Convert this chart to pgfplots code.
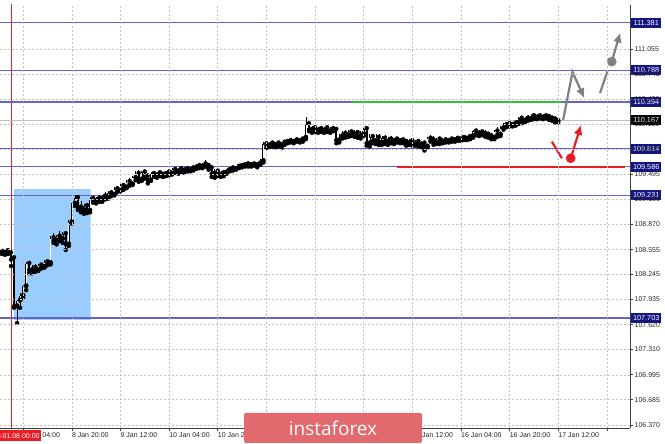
\documentclass[border=0pt]{standalone}
\usepackage{pgfplots}
\usepackage{pgfplotstable}
\pgfplotsset{compat=1.18}
\usetikzlibrary{arrows.meta}
\usepackage{fontspec}
\setmainfont{Liberation Sans}
\newfontfamily\logofont{Open Sans}

\definecolor{lvl}{RGB}{100,100,200}
\definecolor{navy}{RGB}{20,20,130}
\definecolor{boxblue}{RGB}{153,204,255}
\definecolor{arrowgrey}{RGB}{128,128,128}
\definecolor{mtred}{RGB}{235,28,36}
\definecolor{mtgreen}{RGB}{50,190,60}
\definecolor{logored}{RGB}{226,106,110}
\definecolor{gridgrey}{RGB}{195,195,195}

% hourly bars, x = trading hours since 8 Jan 00:00
\pgfplotstableread{
x o h l c
-3 108.53 108.56 108.50 108.52
-2 108.52 108.55 108.49 108.54
-1 108.54 108.57 108.50 108.51
0 108.51 108.53 108.35 108.43
1 108.45 108.47 107.83 107.85
2 107.85 107.93 107.64 107.92
3 107.92 108.02 107.83 107.98
4 107.98 108.12 107.95 108.10
5 108.10 108.40 108.05 108.38
6 108.38 108.40 108.26 108.30
7 108.30 108.36 108.26 108.33
8 108.33 108.37 108.28 108.30
9 108.30 108.38 108.29 108.36
10 108.36 108.40 108.32 108.34
11 108.34 108.42 108.33 108.40
12 108.40 108.44 108.36 108.38
13 108.39 108.72 108.37 108.70
14 108.70 108.76 108.64 108.67
15 108.67 108.74 108.62 108.72
16 108.72 108.79 108.66 108.69
17 108.69 108.78 108.64 108.75
18 108.75 108.77 108.55 108.62
19 108.62 108.92 108.60 108.90
20 108.90 109.15 108.88 109.13
21 109.13 109.24 109.10 109.20
22 109.20 109.23 109.05 109.08
23 109.08 109.16 109.02 109.05
24 109.05 109.12 109.00 109.10
25 109.10 109.13 109.01 109.04
26 109.04 109.21 109.02 109.19
27 109.19 109.22 109.14 109.16
28 109.16 109.21 109.13 109.19
29 109.19 109.23 109.15 109.17
30 109.17 109.24 109.15 109.22
31 109.22 109.27 109.18 109.20
32 109.20 109.28 109.19 109.26
33 109.26 109.30 109.22 109.24
34 109.24 109.33 109.23 109.31
35 109.31 109.35 109.27 109.29
36 109.29 109.37 109.28 109.35
37 109.35 109.38 109.30 109.33
38 109.33 109.42 109.32 109.40
39 109.40 109.45 109.35 109.37
40 109.37 109.47 109.36 109.45
41 109.45 109.53 109.42 109.50
42 109.50 109.55 109.40 109.43
43 109.43 109.54 109.41 109.52
44 109.52 109.55 109.44 109.47
45 109.47 109.49 109.38 109.42
46 109.42 109.52 109.41 109.50
47 109.50 109.53 109.46 109.48
48 109.48 109.52 109.45 109.51
49 109.51 109.53 109.47 109.49
50 109.49 109.52 109.46 109.50
51 109.50 109.54 109.47 109.52
52 109.52 109.54 109.48 109.50
53 109.50 109.57 109.49 109.55
54 109.55 109.58 109.51 109.53
55 109.53 109.57 109.50 109.56
56 109.56 109.58 109.52 109.54
57 109.54 109.58 109.51 109.56
58 109.56 109.59 109.53 109.55
59 109.55 109.59 109.53 109.57
60 109.57 109.60 109.54 109.58
61 109.58 109.62 109.56 109.60
62 109.60 109.63 109.57 109.59
63 109.59 109.64 109.57 109.62
64 109.62 109.67 109.59 109.60
65 109.60 109.64 109.55 109.57
66 109.57 109.61 109.46 109.50
67 109.50 109.56 109.45 109.53
68 109.53 109.55 109.47 109.49
69 109.49 109.53 109.46 109.51
70 109.51 109.54 109.47 109.52
71 109.52 109.57 109.50 109.55
72 109.55 109.58 109.53 109.57
73 109.57 109.60 109.54 109.56
74 109.56 109.60 109.55 109.59
75 109.59 109.62 109.57 109.60
76 109.60 109.63 109.58 109.61
77 109.61 109.64 109.59 109.62
78 109.62 109.64 109.59 109.61
79 109.61 109.64 109.59 109.62
80 109.62 109.65 109.60 109.61
81 109.61 109.64 109.58 109.63
82 109.63 109.68 109.61 109.66
83 109.66 109.89 109.64 109.87
84 109.87 109.91 109.82 109.85
85 109.85 109.90 109.83 109.88
86 109.88 109.91 109.84 109.86
87 109.86 109.90 109.83 109.88
88 109.88 109.91 109.84 109.85
89 109.85 109.90 109.82 109.89
90 109.89 109.92 109.86 109.90
91 109.90 109.93 109.88 109.91
92 109.91 109.93 109.89 109.90
93 109.90 109.93 109.88 109.92
94 109.92 109.94 109.90 109.91
95 109.91 109.94 109.89 109.93
96 109.93 109.96 109.90 109.95
97 109.95 110.21 109.93 110.12
98 110.12 110.15 110.03 110.05
99 110.05 110.09 110.01 110.07
100 110.07 110.10 110.02 110.04
101 110.04 110.08 110.01 110.06
102 110.06 110.09 110.02 110.04
103 110.04 110.08 110.01 110.07
104 110.07 110.09 110.02 110.03
105 110.03 110.08 110.01 110.06
106 110.06 110.09 110.03 110.05
107 110.05 110.07 109.88 109.92
108 109.92 110.00 109.89 109.97
109 109.97 110.03 109.94 110.00
110 110.00 110.04 109.95 109.98
111 109.98 110.04 109.96 110.02
112 110.02 110.05 109.97 109.99
113 109.99 110.04 109.96 110.01
114 110.01 110.05 109.95 109.97
115 109.97 110.03 109.94 110.00
116 110.00 110.09 109.97 110.06
117 110.06 110.08 109.85 109.88
118 109.88 109.99 109.84 109.96
119 109.96 110.00 109.88 109.91
120 109.91 109.99 109.87 109.95
121 109.95 109.99 109.86 109.89
122 109.89 109.97 109.86 109.94
123 109.94 109.98 109.87 109.90
124 109.90 109.96 109.86 109.93
125 109.93 109.97 109.88 109.91
126 109.91 109.95 109.87 109.93
127 109.93 109.95 109.89 109.91
128 109.91 109.94 109.88 109.92
129 109.92 109.94 109.88 109.90
130 109.90 109.93 109.85 109.88
131 109.88 109.93 109.86 109.91
132 109.91 109.93 109.85 109.87
133 109.87 109.92 109.85 109.90
134 109.90 109.92 109.84 109.86
135 109.86 109.91 109.83 109.88
136 109.88 109.90 109.79 109.84
137 109.84 109.96 109.83 109.94
138 109.94 109.98 109.90 109.92
139 109.92 109.97 109.86 109.89
140 109.89 109.95 109.87 109.93
141 109.93 109.95 109.87 109.90
142 109.90 109.94 109.88 109.92
143 109.92 109.94 109.89 109.91
144 109.91 109.94 109.89 109.93
145 109.93 109.95 109.90 109.92
146 109.92 109.95 109.90 109.94
147 109.94 109.96 109.91 109.93
148 109.93 109.96 109.91 109.95
149 109.95 109.97 109.92 109.94
150 109.94 109.97 109.92 109.96
151 109.96 109.99 109.93 109.97
152 109.97 110.05 109.95 110.03
153 110.03 110.06 109.98 110.00
154 110.00 110.04 109.97 110.02
155 110.02 110.05 109.98 110.00
156 110.00 110.04 109.96 109.99
157 109.99 110.02 109.95 109.97
158 109.97 109.99 109.93 109.95
159 109.95 110.05 109.93 110.03
160 110.03 110.08 109.96 109.99
161 109.99 110.09 109.97 110.07
162 110.07 110.13 110.05 110.11
163 110.11 110.14 110.08 110.12
164 110.12 110.15 110.09 110.11
165 110.11 110.15 110.09 110.13
166 110.13 110.16 110.10 110.14
167 110.14 110.21 110.12 110.19
168 110.19 110.22 110.13 110.16
169 110.16 110.21 110.14 110.19
170 110.19 110.23 110.16 110.18
171 110.18 110.24 110.17 110.22
172 110.22 110.26 110.18 110.20
173 110.20 110.24 110.18 110.22
174 110.22 110.25 110.19 110.20
175 110.20 110.24 110.18 110.22
176 110.22 110.25 110.19 110.21
177 110.21 110.23 110.17 110.19
178 110.19 110.21 110.16 110.18
179 110.18 110.20 110.14 110.16
180 110.16 110.19 110.14 110.167
}\candles

\begin{document}
\begin{tikzpicture}
\useasboundingbox (0,0) rectangle (665pt,444pt);
\begin{axis}[
    at={(0pt,16pt)}, anchor=south west,
    scale only axis, width=630pt, height=423pt,
    xmin=-3.62, xmax=203.6, ymin=106.332, ymax=111.603,
    axis x line*=bottom, axis y line*=right,
    axis line style={black!75, line width=0.9pt},
    axis on top,
    clip mode=individual,
    tick align=outside, major tick length=3pt,
    tick style={black!75, line width=0.6pt},
    xtick={4,20,36,52,68,84,100,116,132,148,164,180,196},
    xticklabels={8 Jan 04:00, 8 Jan 20:00, 9 Jan 12:00, 10 Jan 04:00, 10 Jan 20:00,
      13 Jan 12:00, 14 Jan 04:00, 14 Jan 20:00, 15 Jan 12:00, 16 Jan 04:00,
      16 Jan 20:00, 17 Jan 12:00, {}},
    xticklabel style={anchor=north west, xshift=-1pt, inner sep=1pt, yshift=-0.5pt},
    ytick={106.370,106.685,106.995,107.310,107.620,107.935,108.245,108.555,108.870,109.180,109.495,109.805,110.120,110.430,110.745,111.055},
    yticklabels={106.370,106.685,106.995,107.310,107.620,107.935,108.245,108.555,108.870,109.180,109.495,109.805,110.120,110.430,110.745,111.055},
    yticklabel style={anchor=west, inner sep=1pt, xshift=0.5pt},
    tick label style={font=\fontsize{7}{8}\selectfont, text=black!85},
    grid=major,
    major grid style={gridgrey, dash pattern=on 2pt off 2pt, line width=0.5pt},
  ]
  % highlighted zone
  \addplot[fill=boxblue, draw=none] coordinates {(1.0,107.678) (26.2,107.678) (26.2,109.307) (1.0,109.307) (1.0,107.678)};
  % period separator
  \addplot[mtred, line width=0.7pt] coordinates {(0,106.0) (0,112.0)};
  % price line
  \addplot[black!25, line width=0.6pt] coordinates {(-5,110.167) (210,110.167)};
  % levels
  \pgfplotsinvokeforeach{111.381,110.788,110.394,109.814,109.586,109.231,107.703}{
    \addplot[lvl, line width=1.2pt] coordinates {(-5,#1) (210,#1)};
  }
  % candles: wicks, bodies, hollow inside of rising bars
  \addplot[only marks, mark=none, error bars/.cd, y dir=plus, y explicit, error mark=none,
    error bar style={black, line width=0.55pt}]
    table[x=x, y=l, y error plus expr={\thisrow{h}-\thisrow{l}}] {\candles};
  \addplot[only marks, mark=none, error bars/.cd, y dir=plus, y explicit, error mark=none,
    error bar style={black, line width=1.7pt}]
    table[x=x, y expr={min(\thisrow{o},\thisrow{c})}, y error plus expr={max(abs(\thisrow{c}-\thisrow{o}),0.006)}] {\candles};
  \addplot[only marks, mark=none, error bars/.cd, y dir=plus, y explicit, error mark=none,
    error bar style={white, line width=0.6pt}]
    table[x=x, y expr={\thisrow{o}+0.009}, y error plus expr={max(\thisrow{c}-\thisrow{o}-0.018,0)}] {\candles};
  % target lines
  \addplot[mtgreen, line width=2.4pt] coordinates {(112.2,110.394) (181.2,110.394)};
  \addplot[mtred, line width=2.6pt] coordinates {(127,109.586) (202,109.586)};
  % forecast arrows
  \addplot[arrowgrey, line width=2.2pt, -{Latex[length=10pt,width=9pt]}] coordinates {(181.6,110.170) (184.7,110.768) (188.6,110.440)};
  \addplot[arrowgrey, line width=2.2pt] coordinates {(193.75,110.507) (196.2,110.781)};
  \addplot[arrowgrey, line width=2.2pt, -{Latex[length=10pt,width=9pt]}] coordinates {(197.6,110.897) (200.4,111.26)};
  \addplot[only marks, mark=*, mark size=4.6pt, arrowgrey] coordinates {(197.6,110.897)};
  \addplot[mtred, line width=2.2pt] coordinates {(177.9,109.900) (181.2,109.693)};
  \addplot[mtred, line width=2.2pt, -{Latex[length=10pt,width=9pt]}] coordinates {(184.1,109.693) (187.5,110.11)};
  \addplot[only marks, mark=*, mark size=4.6pt, mtred] coordinates {(184.1,109.693)};
  % price labels
  \pgfplotsinvokeforeach{111.381,110.788,110.394,109.814,109.586,109.231,107.703}{
    \node[fill=navy, text=white, anchor=west, inner sep=1pt, minimum height=10pt, minimum width=30pt,
      font=\fontsize{7.3}{8}\selectfont, xshift=1pt] at (axis cs:203.6,#1) {#1};
  }
  \node[fill=black, text=white, anchor=west, inner sep=1pt, minimum height=10pt, minimum width=30pt,
    font=\fontsize{7.3}{8}\selectfont, xshift=1pt] at (axis cs:203.6,110.167) {110.167};
\end{axis}
\node[fill=mtred, text=white, anchor=east, inner sep=1.2pt, minimum height=11pt,
  font=\fontsize{7}{8}\selectfont] at (41pt,8pt) {2020.01.08 00:00};
\node[fill=logored, rounded corners=2pt, minimum width=178pt, minimum height=30pt,
  text=white, font=\logofont\fontsize{19}{19}\selectfont] at (333pt,16pt) {instaforex};
\end{tikzpicture}
\end{document}
